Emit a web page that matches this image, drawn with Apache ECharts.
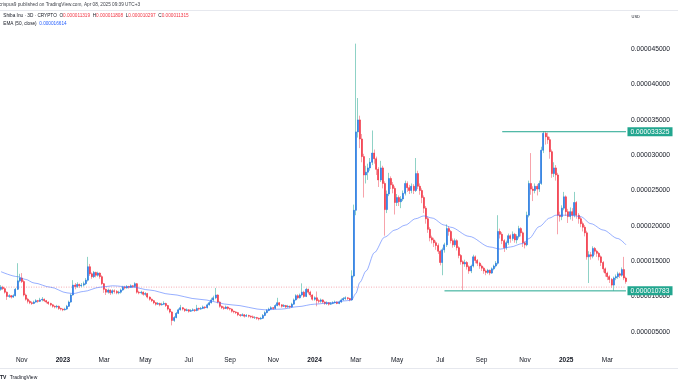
<!DOCTYPE html>
<html><head><meta charset="utf-8">
<script src="https://cdn.jsdelivr.net/npm/echarts@6/dist/echarts.min.js"></script>
<style>html,body{margin:0;padding:0;background:#fff}#c{width:678px;height:381px}</style>
</head><body><div id="c"></div>
<script>
// SHIB/USD, 3-day candles, values in millionths of a dollar (1e-6 USD)
const startDate = [2022, 9, 3]; // 3 Oct 2022 (UTC, month 0-based)
const candleDays = 3;
// [open, close, low, high]
const ohlc = [
[11.0,11.3,10.8,11.6],[11.3,11.1,10.9,11.5],[11.1,10.6,10.4,11.3],[10.6,10.0,9.5,10.7],[10.0,10.1,9.8,10.3],
[10.1,9.9,9.7,10.2],[9.9,10.1,9.8,10.3],[10.1,11.0,10.0,11.2],[11.0,12.2,10.9,14.7],[12.2,12.6,12.0,13.2],
[12.6,12.1,11.9,13.3],[12.1,10.2,10.0,12.3],[10.2,9.6,9.4,10.4],[9.6,9.3,9.0,9.8],[9.3,9.1,8.9,9.5],
[9.1,9.0,8.8,9.3],[9.0,9.2,8.9,9.4],[9.2,9.4,9.1,9.6],[9.4,9.3,9.1,9.5],[9.3,9.5,9.2,9.8],
[9.5,9.6,9.3,9.9],[9.6,9.4,9.2,9.7],[9.4,9.2,9.0,9.5],[9.2,9.0,8.8,9.3],[9.0,8.8,8.6,9.1],
[8.8,8.6,8.4,8.9],[8.6,8.5,8.3,8.7],[8.5,8.6,8.3,8.8],[8.6,8.3,8.1,8.7],[8.3,8.2,8.0,8.4],
[8.2,8.1,7.9,8.3],[8.1,8.2,8.0,8.4],[8.2,8.6,8.1,8.8],[8.6,9.2,8.5,9.4],[9.2,10.2,9.1,10.4],
[10.2,11.6,10.1,12.3],[11.6,11.4,11.0,11.9],[11.4,11.7,11.2,12.0],[11.7,11.5,11.2,11.8],[11.5,11.6,11.3,11.9],
[11.6,11.8,11.4,12.1],[11.8,12.3,11.6,12.6],[12.3,14.2,12.1,15.6],[14.2,13.2,12.9,14.6],[13.2,12.8,12.5,13.4],
[12.8,13.4,12.6,13.6],[13.4,13.0,12.7,13.5],[13.0,13.3,12.8,13.5],[13.3,12.8,12.5,13.4],[12.8,11.8,11.6,13.0],
[11.8,11.0,10.5,11.9],[11.0,10.6,10.2,11.1],[10.6,10.9,10.4,11.1],[10.9,10.5,10.2,11.0],[10.5,10.8,10.3,11.0],
[10.8,10.7,10.4,11.0],[10.7,10.5,10.3,10.9],[10.5,10.6,10.3,10.8],[10.6,10.9,10.4,11.1],[10.9,11.3,10.8,11.5],
[11.3,11.2,11.0,11.5],[11.2,11.4,11.1,11.6],[11.4,11.3,11.1,11.5],[11.3,11.5,11.2,11.7],[11.5,11.4,11.2,11.6],
[11.4,11.8,11.3,12.0],[11.8,10.6,10.4,11.9],[10.6,10.5,10.3,10.8],[10.5,10.6,10.3,10.8],[10.6,10.3,10.1,10.7],
[10.3,10.4,10.1,10.6],[10.4,9.9,9.7,10.5],[9.9,9.6,9.4,10.0],[9.6,9.4,9.2,9.7],[9.4,9.1,8.9,9.5],
[9.1,8.9,8.7,9.2],[8.9,9.0,8.8,9.2],[9.0,8.8,8.6,9.1],[8.8,8.9,8.7,9.1],[8.9,9.0,8.8,9.3],
[9.0,8.7,8.5,9.1],[8.7,8.2,8.0,8.8],[8.2,7.8,7.6,8.3],[7.8,6.6,5.9,7.9],[6.6,7.0,6.4,7.2],
[7.0,7.6,6.9,7.8],[7.6,8.1,7.5,8.3],[8.1,8.4,8.0,8.8],[8.4,8.2,8.0,8.5],[8.2,8.0,7.8,8.3],
[8.0,8.1,7.9,8.3],[8.1,7.9,7.7,8.2],[7.9,8.0,7.8,8.2],[8.0,8.1,7.9,8.3],[8.1,8.0,7.8,8.2],
[8.0,8.3,7.9,8.8],[8.3,8.2,8.0,8.4],[8.2,8.3,8.1,8.5],[8.3,8.5,8.2,8.7],[8.5,8.4,8.2,8.6],
[8.4,8.8,8.3,9.0],[8.8,9.1,8.7,9.3],[9.1,9.5,9.0,9.8],[9.5,9.8,9.3,10.1],[9.8,10.2,9.6,11.2],
[10.2,9.2,9.0,10.3],[9.2,8.6,8.4,9.3],[8.6,8.4,8.2,8.7],[8.4,8.3,8.1,8.6],[8.3,8.5,8.2,8.7],
[8.5,8.3,8.1,8.6],[8.3,8.2,8.0,8.4],[8.2,7.9,7.7,8.3],[7.9,7.8,7.6,8.0],[7.8,7.7,7.5,7.9],
[7.7,7.4,7.2,7.8],[7.4,7.3,7.1,7.5],[7.3,7.4,7.2,7.6],[7.4,7.2,7.0,7.5],[7.2,7.3,7.1,7.5],
[7.3,7.2,7.0,7.4],[7.2,7.1,6.9,7.3],[7.1,7.0,6.9,7.3],[7.0,7.0,6.8,7.2],[7.0,6.9,6.7,7.1],
[6.9,6.8,6.6,7.0],[6.8,6.9,6.7,7.1],[6.9,7.3,6.8,7.5],[7.3,7.7,7.2,7.9],[7.7,8.0,7.6,8.2],
[8.0,8.2,7.9,8.4],[8.2,8.4,8.1,8.6],[8.4,8.3,8.1,8.5],[8.3,8.7,8.2,8.9],[8.7,9.1,8.6,9.8],
[9.1,8.8,8.6,9.2],[8.8,8.6,8.4,8.9],[8.6,8.7,8.5,8.9],[8.7,8.5,8.3,8.8],[8.5,8.6,8.4,8.8],
[8.6,8.5,8.3,8.7],[8.5,8.9,8.4,9.1],[8.9,9.5,8.8,9.7],[9.5,10.1,9.4,10.3],[10.1,9.8,9.6,10.3],
[9.8,10.2,9.7,10.4],[10.2,10.6,10.0,11.85],[10.6,10.0,9.8,10.8],[10.0,11.0,9.9,11.2],[11.0,10.6,10.3,11.1],
[10.6,10.2,9.9,10.8],[10.2,9.6,9.4,10.3],[9.6,9.8,9.4,10.0],[9.8,9.4,8.6,10.7],[9.4,9.3,9.0,9.6],
[9.3,9.5,9.1,9.7],[9.5,9.2,9.0,9.6],[9.2,9.0,8.8,9.3],[9.0,9.1,8.8,9.3],[9.1,8.9,8.7,9.2],
[8.9,9.0,8.8,9.2],[9.0,9.1,8.9,9.3],[9.1,9.2,9.0,9.4],[9.2,9.0,8.9,9.3],[9.0,9.2,8.9,9.4],
[9.2,9.5,9.1,9.7],[9.5,9.7,9.4,9.9],[9.7,9.8,9.5,10.0],[9.8,9.7,9.5,9.9],[9.7,9.5,9.3,9.8],
[9.5,12.9,9.4,13.7],[12.9,22.2,12.7,23.0],[22.2,33.3,21.5,45.8],[33.3,35.0,32.5,38.1],[35.0,32.3,31.0,35.6],
[32.3,29.8,29.0,33.0],[29.8,27.2,24.0,30.2],[27.2,27.6,26.0,28.5],[27.6,28.2,26.5,28.8],[28.2,29.0,27.8,29.6],
[29.0,30.3,28.6,33.5],[30.3,29.5,28.8,30.8],[29.5,28.0,27.2,29.8],[28.0,26.5,25.5,28.3],[26.5,28.2,26.2,29.2],
[28.2,26.0,25.3,28.5],[26.0,22.3,18.6,26.3],[22.3,24.5,21.8,25.0],[24.5,26.7,24.2,27.5],[26.7,25.8,25.2,27.0],
[25.8,25.3,24.6,26.2],[25.3,23.3,21.6,25.6],[23.3,24.0,22.8,24.5],[24.0,23.4,22.8,24.3],[23.4,23.8,22.5,24.2],
[23.8,24.6,23.5,25.0],[24.6,26.0,24.3,26.4],[26.0,25.4,24.8,26.3],[25.4,25.0,24.5,25.8],[25.0,25.6,24.6,26.0],
[25.6,25.0,24.5,25.9],[25.0,27.4,24.8,29.6],[27.4,25.6,25.2,27.8],[25.6,25.0,24.4,26.0],[25.0,24.0,23.2,25.3],
[24.0,22.5,21.8,24.3],[22.5,21.0,20.3,22.8],[21.0,19.5,19.0,21.3],[19.5,18.3,17.8,19.8],[18.3,18.0,17.5,18.6],
[18.0,17.6,17.0,18.3],[17.6,17.2,16.6,17.9],[17.2,16.4,16.0,17.5],[16.4,14.8,14.4,16.6],[14.8,16.6,13.0,16.9],
[16.6,17.3,16.2,17.6],[17.3,19.6,17.0,20.2],[19.6,19.2,18.6,19.9],[19.2,17.9,17.5,19.4],[17.9,17.3,16.9,18.2],
[17.3,17.9,17.0,18.2],[17.9,16.9,16.5,18.1],[16.9,15.8,15.4,17.1],[15.8,14.9,14.5,16.0],[14.9,14.6,10.9,15.1],
[14.6,14.8,14.2,15.2],[14.8,14.2,13.8,15.0],[14.2,13.6,13.2,14.4],[13.6,14.3,13.3,14.5],[14.3,15.6,14.1,15.9],
[15.6,15.1,14.7,15.8],[15.1,14.7,14.3,15.3],[14.7,14.3,13.9,14.9],[14.3,14.0,13.6,14.5],[14.0,13.6,13.2,14.2],
[13.6,13.4,13.0,13.8],[13.4,13.7,13.2,13.9],[13.7,13.3,13.0,13.8],[13.3,13.9,13.2,14.1],[13.9,14.3,13.7,14.5],
[14.3,14.7,14.1,15.0],[14.7,19.2,14.5,21.5],[19.2,18.8,18.2,19.6],[18.8,17.9,17.4,19.1],[17.9,16.9,16.3,18.1],
[16.9,17.6,16.6,17.9],[17.6,18.6,17.3,18.9],[18.6,18.2,17.6,18.8],[18.2,18.8,17.9,19.2],[18.8,18.0,17.6,19.0],
[18.0,18.5,17.5,18.8],[18.5,19.6,18.2,20.0],[19.6,19.0,18.5,19.8],[19.0,17.6,17.0,19.2],[17.6,17.3,16.8,17.8],
[17.3,21.5,17.1,22.0],[21.5,26.0,21.2,26.4],[26.0,25.2,24.4,30.3],[25.2,25.0,23.5,25.6],[25.0,25.6,24.6,26.0],
[25.6,25.2,24.3,25.9],[25.2,26.0,24.8,26.4],[26.0,30.7,25.8,31.2],[30.7,33.1,30.3,33.4],[33.1,32.6,31.5,33.4],
[32.6,32.2,31.6,33.2],[32.2,30.5,29.5,32.6],[30.5,27.4,26.8,30.8],[27.4,28.2,26.9,29.0],[28.2,27.2,26.4,28.6],
[27.2,21.5,18.8,27.5],[21.5,21.3,20.6,22.0],[21.3,22.5,20.8,22.9],[22.5,24.1,22.2,24.8],[24.1,22.0,21.4,24.3],
[22.0,21.3,20.4,22.4],[21.3,22.0,20.9,22.6],[22.0,21.5,20.7,22.5],[21.5,23.3,21.2,24.8],[23.3,21.5,21.0,23.5],
[21.5,21.0,20.3,21.8],[21.0,20.3,19.8,21.3],[20.3,19.8,19.2,20.6],[19.8,19.0,18.5,20.1],[19.0,15.6,15.2,19.3],
[15.6,15.9,11.9,16.4],[15.9,15.7,15.2,16.3],[15.7,16.8,15.4,17.1],[16.8,16.4,15.9,17.0],[16.4,16.1,15.6,16.6],
[16.1,15.6,15.1,16.3],[15.6,14.8,14.3,15.8],[14.8,13.9,13.4,15.0],[13.9,13.3,12.8,14.1],[13.3,12.8,12.3,13.5],
[12.8,12.4,11.9,13.0],[12.4,11.6,11.2,12.6],[11.6,12.6,10.8,12.8],[12.6,12.8,12.3,13.1],[12.8,13.2,12.5,13.5],
[13.2,13.0,12.6,13.4],[13.0,13.8,12.8,14.1],[13.8,12.6,12.3,15.6],[12.6,12.1,11.8,12.8]
];
// EMA(50, close): [candle index, value]
const emaPoints = [
[0,13.5],[8,12.8],[12,12.4],[16,11.9],[24,11.3],[32,10.5],[35,10.4],[40,10.7],[48,11.3],[54,11.5],
[64,11.3],[72,10.9],[82,10.3],[96,9.6],[112,8.8],[128,8.1],[136,8.2],[144,8.55],[152,8.9],[160,9.1],
[168,9.4],[170,9.5],[172,10.4],[174,12.0],[177,13.6],[181,16.2],[186,18.4],[191,19.4],[196,20.1],[201,21.0],
[205,21.4],[209,21.1],[215,20.1],[218,19.8],[227,18.5],[237,17.0],[242,16.7],[247,17.0],[253,17.5],[256,18.2],
[261,19.9],[266,21.1],[269,21.5],[276,21.5],[281,21.3],[286,20.3],[292,19.4],[299,18.2],[303,17.3]
];
const xTickMonths = ['2022-11','2023-01','2023-03','2023-05','2023-07','2023-09','2023-11','2024-01','2024-03','2024-05','2024-07','2024-09','2024-11','2025-01','2025-03'];
const xTickLabels = ['Nov','2023','Mar','May','Jul','Sep','Nov','2024','Mar','May','Jul','Sep','Nov','2025','Mar'];
const resistance = 33.325, resistanceFrom = 243;
const support = 10.783, supportFrom = 215;
const lastPrice = 11.315;

// category dates
const categories = [];
for (let i = 0; i < ohlc.length; i++) {
  const d = new Date(Date.UTC(startDate[0], startDate[1], startDate[2]) + i * candleDays * 86400000);
  categories.push(d.toISOString().slice(0, 10));
}
const lastIdx = ohlc.length - 1;
const bodies = ohlc.map(d => [d[0], d[1], Math.min(d[0], d[1]), Math.max(d[0], d[1])]);
const fmt = v => (v / 1e6).toFixed(9);

const UP = '#2677e6', DOWN = '#f23645', UPW = '#8fd2c6', DOWNW = '#f7a3ab', TEAL = '#22a68f';
const FONT = 'Liberation Sans, Arial, sans-serif';

function levelSeries(from, value) {
  return {
    type: 'line', data: [[from, value], [lastIdx, value]], showSymbol: false, silent: true, z: 5,
    lineStyle: {color: TEAL, width: 1}, itemStyle: {color: TEAL},
    endLabel: {
      show: true, distance: 1.5, formatter: () => fmt(value),
      backgroundColor: TEAL, color: '#ffffff', fontSize: 6.7, fontFamily: FONT,
      lineHeight: 7, padding: [1, 3, 1, 3]
    }
  };
}

const chart = echarts.init(document.getElementById('c'), null, {renderer: 'canvas'});
chart.setOption({
  animation: false,
  backgroundColor: '#ffffff',
  grid: {left: 0, right: 51, top: 14, bottom: 14, containLabel: false},
  xAxis: {
    type: 'category', data: categories, boundaryGap: true,
    axisLine: {show: false}, axisTick: {show: false}, splitLine: {show: false},
    axisLabel: {
      inside: true, margin: 3, fontSize: 6.5, color: '#131722', fontFamily: FONT,
      interval: function (idx, val) {
        const ym = String(val).slice(0, 7);
        if (xTickMonths.indexOf(ym) < 0) return false;
        return idx === 0 || categories[idx - 1].slice(0, 7) !== ym;
      },
      formatter: function (val) {
        const k = xTickMonths.indexOf(String(val).slice(0, 7));
        if (k < 0) return '';
        const lab = xTickLabels[k];
        return /^\d{4}$/.test(lab) ? '{b|' + lab + '}' : lab;
      },
      rich: {b: {fontWeight: 'bold', fontSize: 6.5, color: '#131722', fontFamily: FONT}}
    }
  },
  yAxis: {
    type: 'value', position: 'right', min: 0, max: 50, interval: 5,
    axisLine: {show: false}, axisTick: {show: false}, splitLine: {show: false},
    axisLabel: {margin: 4, fontSize: 6.7, color: '#131722', fontFamily: FONT,
      showMinLabel: false, showMaxLabel: false, formatter: fmt}
  },
  series: [
    {
      type: 'line', data: [[0, lastPrice], [lastIdx, lastPrice]], showSymbol: false, silent: true, z: 0,
      lineStyle: {color: '#f5aab2', type: [1, 1.5], width: 1}, itemStyle: {color: '#f5aab2'}
    },
    {
      type: 'candlestick', data: ohlc, barWidth: 0.4, silent: true, z: 1,
      itemStyle: {color: UPW, color0: DOWNW, borderColor: UPW, borderColor0: DOWNW, borderWidth: 1}
    },
    {
      type: 'candlestick', data: bodies, barWidth: 1.5, silent: true, z: 3,
      itemStyle: {color: UP, color0: DOWN, borderColor: UP, borderColor0: DOWN, borderWidth: 0.6}
    },
    {
      type: 'line', data: emaPoints, showSymbol: false, silent: true, z: 4,
      smooth: 0.3, smoothMonotone: 'x',
      lineStyle: {color: 'rgba(66,110,255,0.55)', width: 1},
      itemStyle: {color: 'rgba(66,110,255,0.55)'}
    },
    levelSeries(resistanceFrom, resistance),
    levelSeries(supportFrom, support)
  ],
  graphic: [
    {type: 'line', shape: {x1: 0, y1: 10.5, x2: 678, y2: 10.5}, style: {stroke: '#e6e8ee', lineWidth: 1}, silent: true},
    {type: 'line', shape: {x1: 0, y1: 368.5, x2: 678, y2: 368.5}, style: {stroke: '#e6e8ee', lineWidth: 1}, silent: true},
    {type: 'text', left: -1, top: 2.5, silent: true,
      style: {text: 'crispus9 published on TradingView.com, Apr 08, 2025 09:39 UTC+3', fontSize: 4.7, fill: '#3c3f47', fontFamily: FONT}},
    {type: 'text', left: 3.3, top: 13.2, silent: true,
      style: {
        text: '{d|Shiba Inu · 3D · CRYPTO}  {d|O}{r|0.000011319}  {d|H}{r|0.000011808}  {d|L}{r|0.000010297}  {d|C}{r|0.000011315}',
        fontFamily: FONT, fontSize: 4.7,
        rich: {d: {fill: '#131722', fontSize: 4.7, fontFamily: FONT}, r: {fill: '#f23645', fontSize: 4.7, fontFamily: FONT}}
      }},
    {type: 'text', left: 3.3, top: 21.2, silent: true,
      style: {
        text: '{d|EMA (50, close)}  {b|0.000016614}',
        fontFamily: FONT, fontSize: 4.7,
        rich: {d: {fill: '#131722', fontSize: 4.7, fontFamily: FONT}, b: {fill: '#2962ff', fontSize: 4.7, fontFamily: FONT}}
      }},
    {type: 'text', left: 631.5, top: 14.5, silent: true,
      style: {text: 'USD', fontSize: 4, fill: '#131722', fontFamily: FONT}},
    {type: 'text', left: 0, top: 371.5, silent: true,
      style: {text: '{t|TV} {n|TradingView}', fontFamily: FONT,
        rich: {t: {fontWeight: 'bold', fontSize: 5, fill: '#131722', fontFamily: FONT}, n: {fontSize: 5, fill: '#131722', fontFamily: FONT}}}}
  ]
});
</script></body></html>
